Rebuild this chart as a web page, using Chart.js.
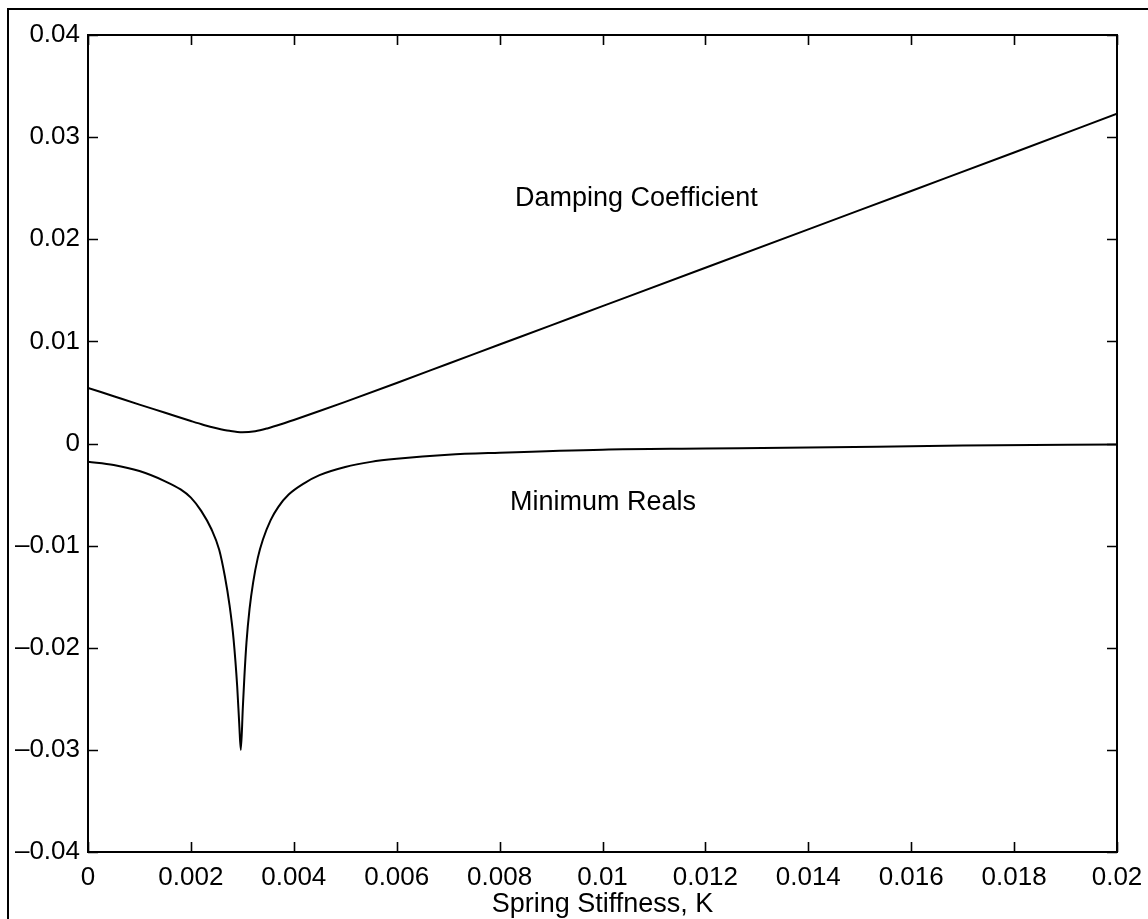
<!DOCTYPE html>
<html>
<head>
<meta charset="utf-8">
<script src="https://cdn.jsdelivr.net/npm/chart.js@4.4.1/dist/chart.umd.min.js"></script>
<style>
html,body{margin:0;padding:0;background:#fff;}
#wrap{position:relative;width:1148px;height:919px;}
</style>
</head>
<body>
<div id="wrap"><canvas id="c" width="1148" height="919"></canvas></div>
<script>
// ---- data ----
const kDamp = [0, 0.0005, 0.001, 0.0015, 0.002, 0.00225, 0.0025, 0.00275, 0.003, 0.00325, 0.0035, 0.00375, 0.004, 0.0045, 0.005, 0.006, 0.007, 0.008, 0.009, 0.01, 0.012, 0.014, 0.016, 0.018, 0.02];
const damping = [0.00545, 0.00463, 0.00381, 0.00301, 0.00220, 0.00182, 0.00150, 0.00124, 0.00110, 0.00120, 0.00150, 0.00188, 0.00230, 0.00318, 0.00408, 0.00593, 0.00781, 0.00969, 0.01157, 0.01345, 0.01721, 0.02097, 0.02473, 0.02849, 0.03230];

const kMin = [0, 0.0005, 0.001, 0.0015, 0.0018, 0.002, 0.0022, 0.0024, 0.00255, 0.00266, 0.00275, 0.00283, 0.0029, 0.00294, 0.00297, 0.00301, 0.00304, 0.00308, 0.00314, 0.00321, 0.0033, 0.0034, 0.00355, 0.0037, 0.0039, 0.0042, 0.0045, 0.005, 0.0055, 0.006, 0.007, 0.008, 0.01, 0.012, 0.014, 0.017, 0.02];
const minReals = [-0.00178, -0.0021, -0.0027, -0.0037, -0.0045, -0.0053, -0.0066, -0.0084, -0.0104, -0.0130, -0.0158, -0.0192, -0.0238, -0.0275, -0.0300, -0.0258, -0.0228, -0.0195, -0.0162, -0.0136, -0.0112, -0.0094, -0.0075, -0.0062, -0.0050, -0.0039, -0.0031, -0.0023, -0.0018, -0.0015, -0.0011, -0.0009, -0.0006, -0.0005, -0.0004, -0.0002, -0.0001];

const xTickValues = [0, 0.002, 0.004, 0.006, 0.008, 0.01, 0.012, 0.014, 0.016, 0.018, 0.02];
const xTickLabels = ['0', '0.002', '0.004', '0.006', '0.008', '0.01', '0.012', '0.014', '0.016', '0.018', '0.02'];
const yTickValues = [-0.04, -0.03, -0.02, -0.01, 0, 0.01, 0.02, 0.03, 0.04];
const yTickLabels = ['\u20130.04', '\u20130.03', '\u20130.02', '\u20130.01', '0', '0.01', '0.02', '0.03', '0.04'];

const curveLabels = ['Damping Coefficient', 'Minimum Reals'];
const curveLabelX = [0.0083, 0.0082];
const curveLabelY = [0.0240, -0.0058];

const xTitle = 'Spring Stiffness, K';

// ---- chart ----
const FONT = '"Liberation Sans", Arial, Helvetica, sans-serif';
const FS = 26;
const FS_TEXT = 27;

function labelFor(values, labels, v) {
  for (let i = 0; i < values.length; i++) if (Math.abs(values[i] - v) < 1e-9) return labels[i];
  return '';
}

const framePlugin = {
  id: 'frame',
  afterDatasetsDraw(chart) {
    const ctx = chart.ctx;
    const a = chart.chartArea;
    const xs = chart.scales.x, ys = chart.scales.y;
    ctx.save();
    ctx.strokeStyle = '#000';
    ctx.lineWidth = 2;
    ctx.strokeRect(a.left, a.top, a.right - a.left, a.bottom - a.top);
    ctx.lineWidth = 1.6;
    const tl = 10;
    ctx.beginPath();
    xTickValues.forEach(v => {
      const px = Math.round(xs.getPixelForValue(v)) + 0.5;
      ctx.moveTo(px, a.bottom); ctx.lineTo(px, a.bottom - tl);
      ctx.moveTo(px, a.top); ctx.lineTo(px, a.top + tl);
    });
    yTickValues.forEach(v => {
      const py = Math.round(ys.getPixelForValue(v)) + 0.5;
      ctx.moveTo(a.left, py); ctx.lineTo(a.left + tl, py);
      ctx.moveTo(a.right, py); ctx.lineTo(a.right - tl, py);
    });
    ctx.stroke();
    // curve annotations
    ctx.fillStyle = '#000';
    ctx.font = FS_TEXT + 'px ' + FONT;
    ctx.textAlign = 'left';
    ctx.textBaseline = 'middle';
    curveLabels.forEach((t, i) => {
      ctx.fillText(t, xs.getPixelForValue(curveLabelX[i]), ys.getPixelForValue(curveLabelY[i]));
    });
    // outer page frame
    ctx.lineWidth = 2;
    ctx.beginPath();
    ctx.moveTo(8, 919); ctx.lineTo(8, 9); ctx.lineTo(1148, 9);
    ctx.stroke();
    ctx.restore();
  }
};

new Chart(document.getElementById('c'), {
  type: 'scatter',
  data: {
    datasets: [
      {
        label: 'Damping Coefficient',
        data: kDamp.map((k, i) => ({x: k, y: damping[i]})),
        showLine: true, borderColor: '#000', borderWidth: 2,
        pointRadius: 0, cubicInterpolationMode: 'monotone', fill: false
      },
      {
        label: 'Minimum Reals',
        data: kMin.map((k, i) => ({x: k, y: minReals[i]})),
        showLine: true, borderColor: '#000', borderWidth: 2,
        pointRadius: 0, cubicInterpolationMode: 'monotone', fill: false
      }
    ]
  },
  options: {
    responsive: false,
    animation: false,
    layout: {padding: {left: 0, top: 35, right: 31, bottom: 0}},
    plugins: {legend: {display: false}, tooltip: {enabled: false}},
    scales: {
      x: {
        type: 'linear', min: 0, max: 0.02,
        grid: {display: false, drawTicks: false},
        border: {display: false},
        afterBuildTicks: s => { s.ticks = xTickValues.map(v => ({value: v})); },
        afterFit: s => { s.height = 67; s.paddingLeft = 0; s.paddingRight = 0; },
        ticks: {
          color: '#000', padding: 10, maxRotation: 0, autoSkip: false,
          font: {family: FONT, size: FS},
          callback: v => labelFor(xTickValues, xTickLabels, v)
        },
        title: {
          display: true, text: xTitle, color: '#000',
          font: {family: FONT, size: FS_TEXT, lineHeight: 1.0},
          padding: {top: 0, bottom: 1}
        }
      },
      y: {
        type: 'linear', min: -0.04, max: 0.04,
        grid: {display: false, drawTicks: false},
        border: {display: false},
        afterBuildTicks: s => { s.ticks = yTickValues.map(v => ({value: v})); },
        afterFit: s => { s.width = 88; s.paddingTop = 0; s.paddingBottom = 0; },
        ticks: {
          color: '#000', padding: 8, autoSkip: false,
          font: {family: FONT, size: FS},
          callback: v => labelFor(yTickValues, yTickLabels, v)
        }
      }
    }
  },
  plugins: [framePlugin]
});
</script>
</body>
</html>
